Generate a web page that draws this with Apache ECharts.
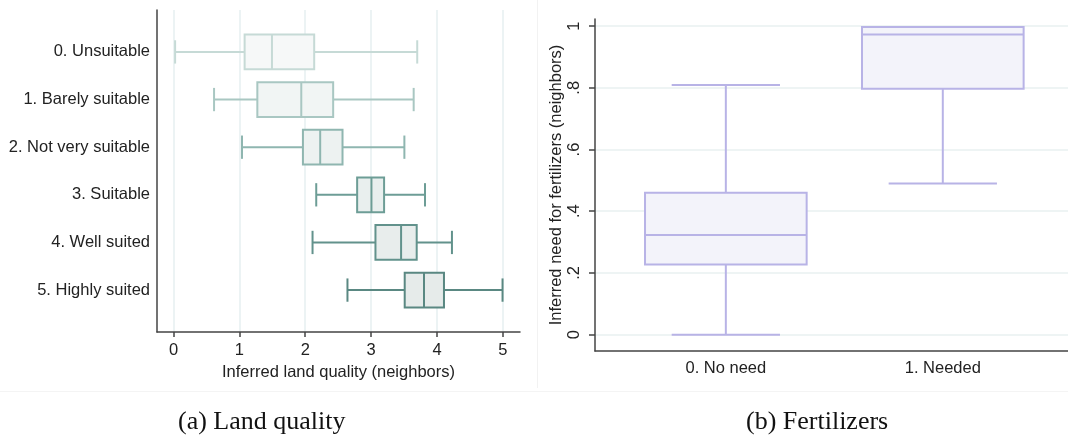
<!DOCTYPE html>
<html>
<head>
<meta charset="utf-8">
<script src="https://cdn.jsdelivr.net/npm/echarts@6/dist/echarts.min.js"></script>
<style>
html,body{margin:0;padding:0;background:#fff;}
#c{width:1068px;height:440px;}
</style>
</head>
<body>
<div id="c"></div>
<script>
// ---- Panel (a): land quality ----
var landCategories = ['0. Unsuitable', '1. Barely suitable', '2. Not very suitable', '3. Suitable', '4. Well suited', '5. Highly suited'];
// [min, Q1, median, Q3, max]
var landMin    = [0.025, 0.616, 1.040, 2.167, 2.111, 2.641];
var landQ1     = [1.080, 1.273, 1.965, 2.788, 3.066, 3.510];
var landMedian = [1.495, 1.940, 2.227, 3.005, 3.455, 3.803];
var landQ3     = [2.136, 2.424, 2.566, 3.197, 3.692, 4.106];
var landMax    = [3.700, 3.646, 3.505, 3.818, 4.227, 4.995];
var landTicks  = [0, 1, 2, 3, 4, 5];

// ---- Panel (b): fertilizers ----
var fertCategories = ['0. No need', '1. Needed'];
var fertMin    = [0.000, 0.490];
var fertQ1     = [0.227, 0.797];
var fertMedian = [0.323, 0.973];
var fertQ3     = [0.460, 0.997];
var fertMax    = [0.809, 0.997];
var fertTicks  = [0, 0.2, 0.4, 0.6, 0.8, 1];

// styles
var landStroke = ['#c6dad6', '#a9c7c2', '#8fb6b0', '#6d9d96', '#62928c', '#5a8882'];
var landFill   = ['#f6f8f8', '#f1f5f4', '#edf2f1', '#e9efee', '#e8edec', '#e6ebea'];
var fertStroke = '#b8b3e6';
var fertFill   = '#f3f3fa';

var FONT = 'Liberation Sans';
var FS = 16.5;

var landData = landCategories.map(function (c, i) {
  return [i, landMin[i], landQ1[i], landMedian[i], landQ3[i], landMax[i]];
});
var fertData = fertCategories.map(function (c, i) {
  return [i, fertMin[i], fertQ1[i], fertMedian[i], fertQ3[i], fertMax[i]];
});

function renderLand(params, api) {
  var i = api.value(0);
  var y = api.coord([0, i])[1];
  var h = Math.abs(api.size([0, 0.73])[1]);
  var cap = h * 0.67;
  var xs = [1, 2, 3, 4, 5].map(function (d) { return api.coord([api.value(d), i])[0]; });
  var st = landStroke[i], fl = landFill[i];
  var lw = 2;
  return {
    type: 'group',
    children: [
      { type: 'line', shape: { x1: xs[0], y1: y, x2: xs[1], y2: y }, style: { stroke: st, lineWidth: lw } },
      { type: 'line', shape: { x1: xs[3], y1: y, x2: xs[4], y2: y }, style: { stroke: st, lineWidth: lw } },
      { type: 'line', shape: { x1: xs[0], y1: y - cap / 2, x2: xs[0], y2: y + cap / 2 }, style: { stroke: st, lineWidth: lw } },
      { type: 'line', shape: { x1: xs[4], y1: y - cap / 2, x2: xs[4], y2: y + cap / 2 }, style: { stroke: st, lineWidth: lw } },
      { type: 'rect', shape: { x: xs[1], y: y - h / 2, width: xs[3] - xs[1], height: h }, style: { fill: fl, stroke: st, lineWidth: lw } },
      { type: 'line', shape: { x1: xs[2], y1: y - h / 2, x2: xs[2], y2: y + h / 2 }, style: { stroke: st, lineWidth: lw } }
    ]
  };
}

function renderFert(params, api) {
  var i = api.value(0);
  var x = api.coord([i, 0])[0];
  var w = Math.abs(api.size([0.745, 0])[0]);
  var cap = w * 0.67;
  var ys = [1, 2, 3, 4, 5].map(function (d) { return api.coord([i, api.value(d)])[1]; });
  var st = fertStroke, fl = fertFill, lw = 2;
  return {
    type: 'group',
    children: [
      { type: 'line', shape: { x1: x, y1: ys[0], x2: x, y2: ys[1] }, style: { stroke: st, lineWidth: lw } },
      { type: 'line', shape: { x1: x, y1: ys[3], x2: x, y2: ys[4] }, style: { stroke: st, lineWidth: lw } },
      { type: 'line', shape: { x1: x - cap / 2, y1: ys[0], x2: x + cap / 2, y2: ys[0] }, style: { stroke: st, lineWidth: lw } },
      { type: 'line', shape: { x1: x - cap / 2, y1: ys[4], x2: x + cap / 2, y2: ys[4] }, style: { stroke: st, lineWidth: lw } },
      { type: 'rect', shape: { x: x - w / 2, y: ys[3], width: w, height: ys[1] - ys[3] }, style: { fill: fl, stroke: st, lineWidth: lw } },
      { type: 'line', shape: { x1: x - w / 2, y1: ys[2], x2: x + w / 2, y2: ys[2] }, style: { stroke: st, lineWidth: lw } }
    ]
  };
}

var chart = echarts.init(document.getElementById('c'), null, { renderer: 'canvas' });
chart.setOption({
  animation: false,
  backgroundColor: '#fff',
  grid: [
    { left: 157, right: 548, top: 10, bottom: 108 },
    { left: 595, right: 0, top: 19, bottom: 89 }
  ],
  xAxis: [
    {
      gridIndex: 0, type: 'value', min: -0.25, max: 5.26,
      name: 'Inferred land quality (neighbors)', nameLocation: 'middle', nameGap: 27,
      nameTextStyle: { fontFamily: FONT, fontSize: FS, color: '#222' },
      axisLine: { show: true, onZero: false, lineStyle: { color: '#444', width: 1.5 } },
      axisTick: { show: true, length: 5, customValues: landTicks, lineStyle: { color: '#444', width: 1.5 } },
      axisLabel: { customValues: landTicks, margin: 10, fontFamily: FONT, fontSize: FS, color: '#222' },
      splitLine: { show: true, lineStyle: { color: '#e6eff1', width: 1.5 } }
    },
    {
      gridIndex: 1, type: 'value', min: -0.603, max: 1.577,
      axisLine: { show: true, onZero: false, lineStyle: { color: '#444', width: 1.5 } },
      axisTick: { show: false, customValues: [0, 1] },
      axisLabel: { customValues: [0, 1], margin: 9, fontFamily: FONT, fontSize: FS, color: '#222',
        formatter: function (v) { return fertCategories[Math.round(v)]; } },
      splitLine: { show: false }
    }
  ],
  yAxis: [
    {
      gridIndex: 0, type: 'value', inverse: true, min: -0.88, max: 5.88,
      axisLine: { show: true, onZero: false, lineStyle: { color: '#444', width: 1.5 } },
      axisTick: { show: false, customValues: landTicks },
      axisLabel: { customValues: landTicks, margin: 7, fontFamily: FONT, fontSize: FS, color: '#222',
        formatter: function (v) { return landCategories[Math.round(v)]; } },
      splitLine: { show: false }
    },
    {
      gridIndex: 1, type: 'value', min: -0.053, max: 1.023,
      name: 'Inferred need for fertilizers (neighbors)', nameLocation: 'middle', nameGap: 27, nameRotate: 90,
      nameTextStyle: { fontFamily: FONT, fontSize: FS, color: '#222' },
      axisLine: { show: true, onZero: false, lineStyle: { color: '#444', width: 1.5 } },
      axisTick: { show: true, length: 6, customValues: fertTicks, lineStyle: { color: '#444', width: 1.5 } },
      axisLabel: { customValues: fertTicks, rotate: 90, margin: 12, fontFamily: FONT, fontSize: FS, color: '#222',
        formatter: function (v) { return v === 0 ? '0' : (v === 1 ? '1' : String(v).replace(/^0\./, '.')); } },
      splitLine: { show: true, lineStyle: { color: '#e9f0f0', width: 1.5 } }
    }
  ],
  series: [
    { type: 'custom', xAxisIndex: 0, yAxisIndex: 0, renderItem: renderLand, data: landData, encode: { x: [1, 2, 3, 4, 5], y: 0 } },
    { type: 'custom', xAxisIndex: 1, yAxisIndex: 1, renderItem: renderFert, data: fertData, encode: { x: 0, y: [1, 2, 3, 4, 5] } }
  ],
  graphic: [
    { type: 'line', shape: { x1: 537.5, y1: 0, x2: 537.5, y2: 388 }, style: { stroke: '#f2f2f2', lineWidth: 1 } },
    { type: 'line', shape: { x1: 0, y1: 391.5, x2: 1068, y2: 391.5 }, style: { stroke: '#f4f4f4', lineWidth: 1 } },
    { type: 'text', left: 178, top: 409, style: { text: '(a) Land quality', fontFamily: 'Liberation Serif', fontSize: 26, fill: '#111' } },
    { type: 'text', left: 746, top: 409, style: { text: '(b) Fertilizers', fontFamily: 'Liberation Serif', fontSize: 26, fill: '#111' } }
  ]
});
</script>
</body>
</html>
